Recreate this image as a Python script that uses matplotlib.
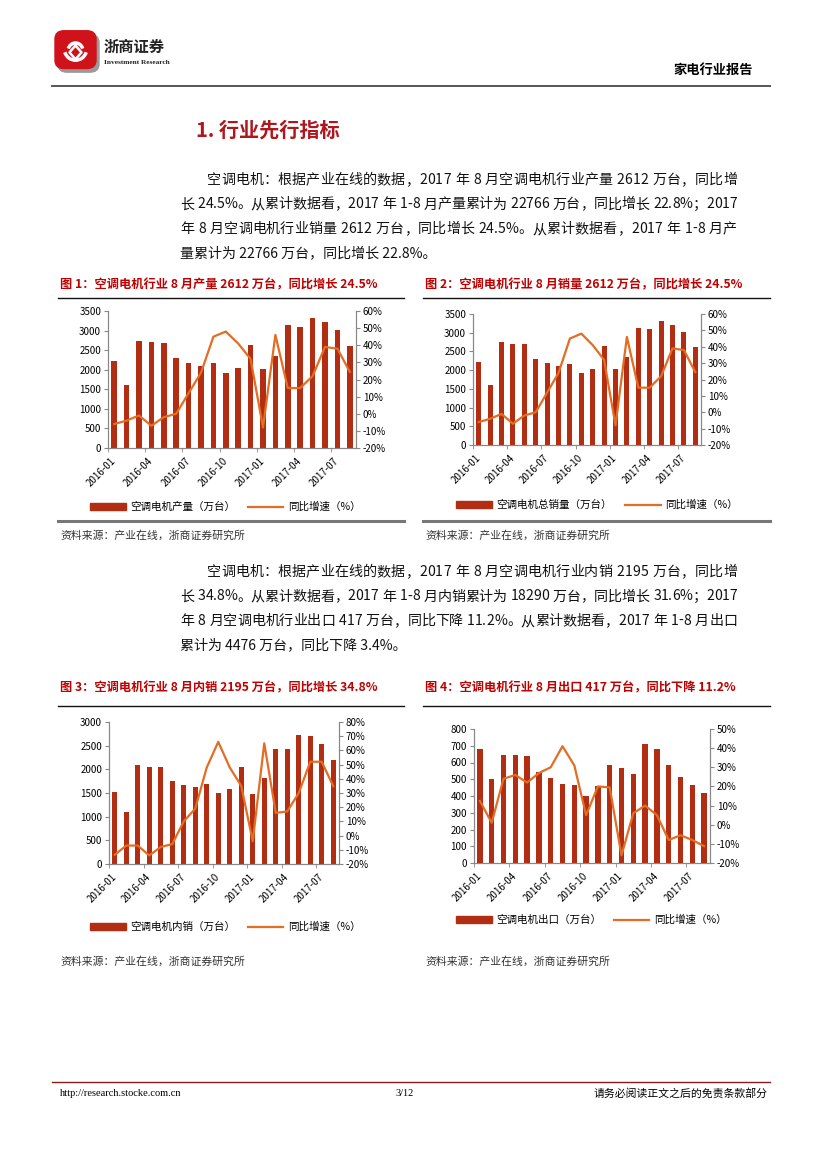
import matplotlib
matplotlib.use('Agg')
import matplotlib.pyplot as plt
from matplotlib.patches import FancyBboxPatch, Arc
from matplotlib.lines import Line2D
from matplotlib.ticker import FuncFormatter, FixedLocator
import numpy as np

plt.rcParams['font.family'] = ['Noto Sans CJK SC', 'DejaVu Sans']

# --- データ -------------------------------------------------------------
months = ['2016-01', '2016-02', '2016-03', '2016-04', '2016-05', '2016-06',
          '2016-07', '2016-08', '2016-09', '2016-10', '2016-11', '2016-12',
          '2017-01', '2017-02', '2017-03', '2017-04', '2017-05', '2017-06',
          '2017-07', '2017-08']
tick_labels = ['2016-01', '2016-04', '2016-07', '2016-10',
               '2017-01', '2017-04', '2017-07']

prod_vals = [2210, 1600, 2740, 2700, 2690, 2310, 2180, 2100, 2160, 1920,
             2040, 2640, 2030, 2340, 3130, 3100, 3310, 3210, 3010, 2612]
prod_yoy = [-6, -4, -1, -7, -2, 0, 12, 24, 45, 48,
            41, 32, -8, 46, 15, 15, 22, 39, 38, 24.5]

sales_vals = [2210, 1600, 2740, 2700, 2690, 2310, 2180, 2100, 2160, 1920,
              2040, 2640, 2030, 2340, 3130, 3100, 3310, 3210, 3010, 2612]
sales_yoy = [-6, -4, -1, -7, -2, 0, 12, 24, 45, 48,
             41, 32, -8, 46, 15, 15, 22, 39, 38, 24.5]

dom_vals = [1530, 1100, 2090, 2055, 2055, 1760, 1670, 1620, 1700, 1510,
            1580, 2045, 1470, 1810, 2420, 2430, 2730, 2700, 2545, 2195]
dom_yoy = [-13.5, -7, -7, -14, -8, -6, 10, 19, 48, 66,
           48, 35, -4, 65, 16, 17, 30, 52, 52, 34.8]

exp_vals = [682, 502, 646, 642, 636, 542, 506, 470, 466, 402,
            460, 586, 570, 534, 712, 678, 586, 514, 466, 417]
exp_yoy = [12.4, 1, 24, 26, 22, 27, 30, 41, 31, 5,
           20, 19.5, -16, 6, 10, 5, -8, -5.5, -8, -11.2]

BAR = '#B22D12'
LINE = '#E46C23'
RED = '#C00000'
W, H = 827, 1169

fig = plt.figure(figsize=(W / 100, H / 100), dpi=100)
renderer = fig.canvas.get_renderer()


def box(x0, y0, x1, y1):
    return [x0 / W, 1 - y1 / H, (x1 - x0) / W, (y1 - y0) / H]


def ptext(x, y, s, **kw):
    kw.setdefault('va', 'center')
    return fig.text(x / W, 1 - y / H, s, **kw)


def pline(x0, x1, y, color, lw):
    fig.add_artist(Line2D([x0 / W, x1 / W], [1 - y / H, 1 - y / H],
                          color=color, lw=lw, transform=fig.transFigure))


def justify(x0, x1, y, s, **kw):
    # 文字ごとに配置して両端揃え
    widths = []
    for ch in s:
        if ch == ' ':
            widths.append(kw['fontsize'] * 100 / 72 * 0.28)
            continue
        t = ptext(0, y, ch, **kw)
        widths.append(t.get_window_extent(renderer).width)
        t.remove()
    gap = (x1 - x0 - sum(widths)) / max(len(s) - 1, 1)
    x = x0
    for ch, w in zip(s, widths):
        if ch != ' ':
            ptext(x, y, ch, **kw)
        x += w + gap


def combo(rect, vals, yoy, bar_name, lmax, lstep, rmin, rmax, rstep, leg_xy):
    ax = fig.add_axes(box(*rect))
    x = np.arange(len(vals))
    ax.bar(x, vals, width=0.45, color=BAR, zorder=2)
    ax.set_xlim(-0.5, len(vals) - 0.5)
    ax.set_ylim(0, lmax)
    ax.set_yticks(np.arange(0, lmax + 1, lstep))
    ax.set_xticks(np.arange(0, len(vals), 3))
    ax.set_xticklabels(tick_labels, rotation=45, ha='right', va='center',
                       rotation_mode='anchor', fontsize=7)
    ax.xaxis.set_minor_locator(FixedLocator(np.arange(-0.5, len(vals), 3)))
    ax.tick_params(axis='x', which='major', length=0, pad=8)
    ax.tick_params(axis='x', which='minor', length=3, color='#888888')
    ax.tick_params(axis='y', length=3, color='#888888', labelsize=7, pad=2)
    ax2 = ax.twinx()
    ax2.plot(x, yoy, color=LINE, lw=1.6, zorder=3)
    ax2.set_ylim(rmin, rmax)
    ax2.set_yticks(np.arange(rmin, rmax + 1, rstep))
    ax2.yaxis.set_major_formatter(FuncFormatter(lambda v, p: f'{v:.0f}%'))
    ax2.tick_params(axis='y', length=3, color='#888888', labelsize=7, pad=2)
    for a in (ax, ax2):
        a.spines['top'].set_visible(False)
        for s in ('left', 'right', 'bottom'):
            a.spines[s].set_color('#888888')
            a.spines[s].set_linewidth(0.8)
    h1 = plt.Rectangle((0, 0), 1, 1, color=BAR)
    h2 = Line2D([], [], color=LINE, lw=1.6)
    fig.legend([h1, h2], [bar_name, '同比增速（%）'], loc='center',
               bbox_to_anchor=(leg_xy[0] / W, 1 - leg_xy[1] / H), ncol=2,
               frameon=False, fontsize=7.6, handlelength=3.4, handleheight=0.6,
               columnspacing=1.2, handletextpad=0.4)
    return ax


# --- ヘッダー -------------------------------------------------------------
logo = fig.add_axes(box(52, 28, 102, 74))
logo.set_xlim(0, 1)
logo.set_ylim(0, 1)
logo.axis('off')
logo.add_patch(FancyBboxPatch((0.16, 0.08), 0.74, 0.74,
                              boxstyle='round,pad=0.04,rounding_size=0.18',
                              color='#9a9a9a'))
logo.add_patch(FancyBboxPatch((0.1, 0.16), 0.74, 0.74,
                              boxstyle='round,pad=0.04,rounding_size=0.18',
                              color='#D0121B'))
logo.add_patch(Arc((0.47, 0.55), 0.45, 0.5, theta1=200, theta2=340,
                   color='white', lw=2.5))
logo.add_patch(Arc((0.47, 0.5), 0.3, 0.35, theta1=20, theta2=160,
                   color='white', lw=2.5))
logo.plot([0.47, 0.35, 0.47, 0.59, 0.47], [0.62, 0.47, 0.32, 0.47, 0.62],
          color='white', lw=1.8)

ptext(104, 47, '浙商证券', fontsize=11, fontweight='bold', color='#222222',
      family=['Noto Sans CJK SC'])
ptext(104, 63, 'Investment Research', fontsize=5.3, color='#222222',
      family=['Liberation Serif'], fontweight='bold')
ptext(753, 70, '家电行业报告', fontsize=9.5, fontweight='bold', ha='right')
pline(52, 770, 86, '#555555', 1.4)

# --- 本文 -------------------------------------------------------------
ptext(196, 130, '1. 行业先行指标', fontsize=14.5, fontweight='bold', color='#B0161E')

para1 = ['空调电机：根据产业在线的数据，2017 年 8 月空调电机行业产量 2612 万台，同比增',
         '长 24.5%。从累计数据看，2017 年 1-8 月产量累计为 22766 万台，同比增长 22.8%；2017',
         '年 8 月空调电机行业销量 2612 万台，同比增长 24.5%。从累计数据看，2017 年 1-8 月产',
         '量累计为 22766 万台，同比增长 22.8%。']
para2 = ['空调电机：根据产业在线的数据，2017 年 8 月空调电机行业内销 2195 万台，同比增',
         '长 34.8%。从累计数据看，2017 年 1-8 月内销累计为 18290 万台，同比增长 31.6%；2017',
         '年 8 月空调电机行业出口 417 万台，同比下降 11.2%。从累计数据看，2017 年 1-8 月出口',
         '累计为 4476 万台，同比下降 3.4%。']
for para, y0 in ((para1, 180), (para2, 572)):
    for i, line in enumerate(para):
        xs = 207 if i == 0 else 180
        y = y0 + i * 24.5
        if i < len(para) - 1:
            justify(xs, 737, y, line, fontsize=10.1, color='#111111')
        else:
            ptext(xs, y, line, fontsize=10.1, color='#111111')

# --- 図 -------------------------------------------------------------
src = '资料来源：产业在线，浙商证券研究所'
titles = [(60, 285, '图 1：空调电机行业 8 月产量 2612 万台，同比增长 24.5%'),
          (425, 285, '图 2：空调电机行业 8 月销量 2612 万台，同比增长 24.5%'),
          (60, 688, '图 3：空调电机行业 8 月内销 2195 万台，同比增长 34.8%'),
          (425, 688, '图 4：空调电机行业 8 月出口 417 万台，同比下降 11.2%')]
for x, y, t in titles:
    ptext(x, y, t, fontsize=8.8, fontweight='bold', color=RED)

for x0, x1 in ((58, 404), (423, 770)):
    pline(x0, x1, 298, '#111111', 1.0)
    pline(x0, x1, 521, '#777777', 2.2)
    ptext(x0 + 2, 535, src, fontsize=7.8, color='#333333')
    pline(x0, x1, 706, '#111111', 1.0)
    ptext(x0 + 2, 962, src, fontsize=7.8, color='#333333')

combo((108, 311, 356, 448), prod_vals, prod_yoy, '空调电机产量（万台）',
      3500, 500, -20, 60, 10, (225, 507))
combo((473, 314, 701, 445), sales_vals, sales_yoy, '空调电机总销量（万台）',
      3500, 500, -20, 60, 10, (597, 505))
combo((109, 722, 339, 864), dom_vals, dom_yoy, '空调电机内销（万台）',
      3000, 500, -20, 80, 10, (225, 927))
combo((474, 729, 710, 863), exp_vals, exp_yoy, '空调电机出口（万台）',
      800, 100, -20, 50, 10, (591, 920))

# --- フッター -------------------------------------------------------------
pline(52, 770, 1082, '#8B1A1A', 1.0)
ptext(60, 1093, 'http://research.stocke.com.cn', fontsize=7.5,
      family=['Liberation Serif'])
ptext(405, 1093, '3/12', fontsize=7.5, family=['Liberation Serif'], ha='center')
ptext(768, 1093, '请务必阅读正文之后的免责条款部分', fontsize=7.8, ha='right')

fig.savefig('out.png', dpi=100)
